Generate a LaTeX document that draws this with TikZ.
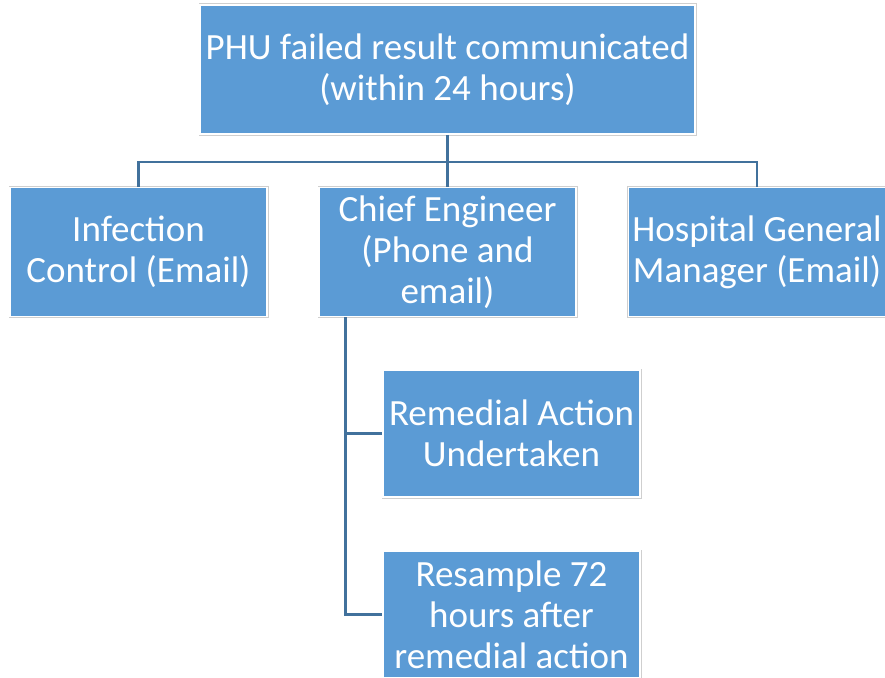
\documentclass[tikz,border=0pt]{standalone}
\usepackage{fontspec}
\setmainfont{Carlito}
\usepackage{xcolor}
\usetikzlibrary{calc}

\definecolor{boxblue}{HTML}{5B9BD5}
\definecolor{boxedge}{HTML}{CFCFCF}
\definecolor{linkblue}{HTML}{41719C}

\begin{document}
\begin{tikzpicture}[x=1pt, y=1pt,
		box/.style = {fill = boxblue, draw = white, line width = 1.5pt,
			preaction = {draw = boxedge, line width = 3pt},
			minimum width = \bw pt, minimum height = 129pt, inner sep = 0pt,
			align = center, text = white,
			font = \fontsize{37}{41}\selectfont},
		link/.style = {draw = linkblue, line width = 2.5pt}]
		\def\bw{257};
		\def\row{-252};
		
		\useasboundingbox (0,0) rectangle (885,-677);
		
		\node [box, minimum width = 495pt] (result) at (447.5,-69.5)
			{PHU failed result communicated\\(within 24 hours)};
		
		\node [box] (infection) at (138.5,\row) {Infection\\Control (Email)};
		\node [box] (engineer) at (447.5,\row) {Chief Engineer\\(Phone and\\email)};
		\node [box] (manager) at (757,\row) {Hospital General\\Manager (Email)};
		
		\node [box, minimum height = 127pt] (remedial) at (511.5,-433.5) {Remedial Action\\Undertaken};
		\node [box, minimum height = 127pt] (resample) at (511.5,-614.5) {Resample 72\\hours after\\remedial action};
		
		\coordinate (bus) at (447.5,-162);
		\coordinate (spine) at ($(engineer.south west) + (27,0)$);
		
		\draw [link] (result.south) -- (engineer.north);
		\draw [link] (infection.north) |- (bus) -| (manager.north);
		
		\draw [link] (spine) |- (remedial.west);
		\draw [link] (spine) |- (resample.west);
	\end{tikzpicture}
\end{document}
